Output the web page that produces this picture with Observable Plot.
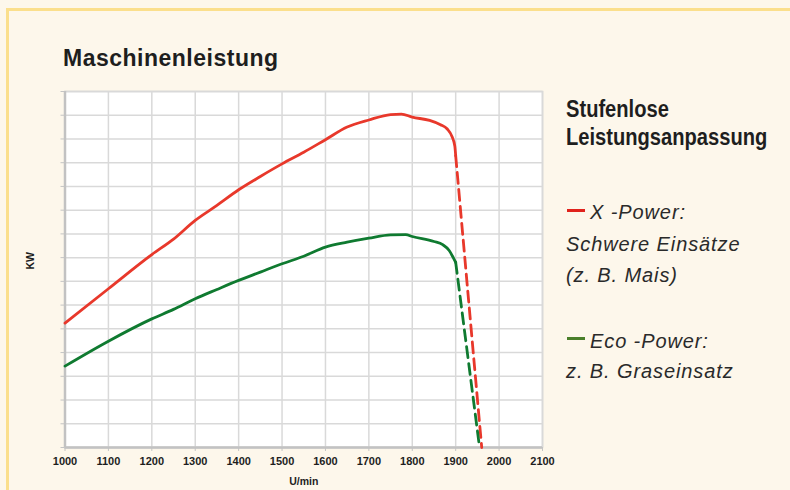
<!DOCTYPE html>
<html>
<head>
<meta charset="utf-8">
<script src="https://cdn.jsdelivr.net/npm/d3@7"></script>
<script src="https://cdn.jsdelivr.net/npm/@observablehq/plot@0.6"></script>
<style>
  html, body { margin: 0; padding: 0; background: #fdf7eb; }
  #wrap { position: relative; width: 790px; height: 490px; overflow: hidden; background: #fdf7eb; font-family: "Liberation Sans", Arial, sans-serif; color: #1e1e1e; }
  #border { position: absolute; left: 6px; top: 8px; right: -10px; bottom: -10px; border-left: 3px solid #fbdf8c; border-top: 3px solid #fbdf8c; }
  #chart { position: absolute; left: 0; top: 0; }
  .t { position: absolute; white-space: nowrap; }
  .title { font-weight: bold; font-size: 23px; line-height: 23px; letter-spacing: 0.5px; }
  .lhead { font-weight: bold; font-size: 23px; line-height: 23px; transform: scaleX(0.875); transform-origin: left center; }
  .litem { font-style: italic; font-size: 20px; line-height: 20px; letter-spacing: 0.9px; color: #2a2a2a; }
  .dash { position: absolute; width: 18px; height: 3px; }
</style>
</head>
<body>
<div id="wrap">
  <div id="border"></div>
  <div id="chart"></div>
  <div class="t title" style="left:63px; top:47px;">Maschinenleistung</div>
  <div class="t lhead" style="left:566px; top:98px;">Stufenlose</div>
  <div class="t lhead" style="left:566px; top:126px;">Leistungsanpassung</div>
  <div class="dash" style="left:567px; top:209px; background:#e0221c;"></div>
  <div class="t litem" style="left:590px; top:202px;">X -Power:</div>
  <div class="t litem" style="left:566px; top:234px;">Schwere Einsätze</div>
  <div class="t litem" style="left:566px; top:265px;">(z. B. Mais)</div>
  <div class="dash" style="left:567px; top:337px; background:#4a7f2a;"></div>
  <div class="t litem" style="left:590px; top:331px;">Eco -Power:</div>
  <div class="t litem" style="left:566px; top:361px;">z. B. Graseinsatz</div>
</div>
<script>
// X-Power (red) solid section: rpm and power (grid units)
const rpmX = [1000, 1100, 1200, 1250, 1300, 1350, 1400, 1450, 1500, 1550, 1600, 1650, 1700, 1750, 1775, 1800, 1840, 1865, 1880, 1892, 1898, 1900];
const powerX = [5.24, 6.69, 8.13, 8.78, 9.57, 10.2, 10.86, 11.42, 11.95, 12.44, 12.97, 13.5, 13.8, 14.03, 14.05, 13.92, 13.78, 13.6, 13.43, 13.08, 12.7, 12.3];
// X-Power dashed drop
const rpmXDrop = [1900, 1960];
const powerXDrop = [12.3, 0];

// Eco-Power (green) solid section
const rpmEco = [1000, 1100, 1200, 1250, 1300, 1350, 1400, 1450, 1500, 1550, 1600, 1650, 1700, 1750, 1785, 1800, 1850, 1870, 1885, 1895, 1900];
const powerEco = [3.43, 4.48, 5.42, 5.82, 6.27, 6.66, 7.04, 7.39, 7.74, 8.06, 8.44, 8.65, 8.82, 8.96, 8.97, 8.89, 8.68, 8.55, 8.3, 7.98, 7.8];
// Eco-Power dashed drop
const rpmEcoDrop = [1900, 1955];
const powerEcoDrop = [7.8, 0];

// Axis ticks
const xTicks = [1000, 1100, 1200, 1300, 1400, 1500, 1600, 1700, 1800, 1900, 2000, 2100];
const yTicks = [0, 1, 2, 3, 4, 5, 6, 7, 8, 9, 10, 11, 12, 13, 14, 15];

const zip = (xs, ys) => xs.map((x, i) => ({x, y: ys[i]}));
const red = "#e8382b", green = "#0f7a30";

const chart = Plot.plot({
  width: 790,
  height: 490,
  marginLeft: 64.5,
  marginRight: 248,
  marginTop: 91,
  marginBottom: 43,
  style: {background: "transparent", fontFamily: "Liberation Sans, Arial, sans-serif", color: "#1e1e1e"},
  x: {domain: [1000, 2100]},
  y: {domain: [0, 15]},
  marks: [
    Plot.frame({fill: "white", stroke: "#c9c9c9", strokeWidth: 1.5}),
    Plot.gridX(xTicks, {stroke: "#d9d9d9", strokeOpacity: 1, strokeWidth: 1.5}),
    Plot.gridY(yTicks, {stroke: "#d9d9d9", strokeOpacity: 1, strokeWidth: 1.5}),
    Plot.axisX(xTicks, {tickSize: 4, tickPadding: 6, stroke: "#c4c4c4", fontWeight: "bold", fontSize: 11, tickFormat: d => String(d), label: null}),
    Plot.axisY(yTicks, {tickSize: 4, stroke: "#c4c4c4", tickFormat: () => "", label: null}),
    Plot.ruleX([1000], {stroke: "#c2c2c2", strokeWidth: 2.5}),
    Plot.ruleY([0], {stroke: "#c2c2c2", strokeWidth: 2.5}),
    Plot.line(zip(rpmXDrop, powerXDrop), {x: "x", y: "y", stroke: red, strokeWidth: 2.8, strokeDasharray: "11,6"}),
    Plot.line(zip(rpmEcoDrop, powerEcoDrop), {x: "x", y: "y", stroke: green, strokeWidth: 2.8, strokeDasharray: "11,6"}),
    Plot.line(zip(rpmX, powerX), {x: "x", y: "y", stroke: red, strokeWidth: 2.8, curve: "monotone-x"}),
    Plot.line(zip(rpmEco, powerEco), {x: "x", y: "y", stroke: green, strokeWidth: 2.8, curve: "monotone-x"}),
    Plot.text(["U/min"], {frameAnchor: "bottom", dy: 37, fontWeight: "bold", fontSize: 10.5, fill: "#1e1e1e"}),
    Plot.text(["KW"], {frameAnchor: "left", dx: -34, rotate: -90, fontWeight: "bold", fontSize: 10.5, fill: "#1e1e1e"})
  ]
});
document.getElementById("chart").appendChild(chart);
</script>
</body>
</html>
